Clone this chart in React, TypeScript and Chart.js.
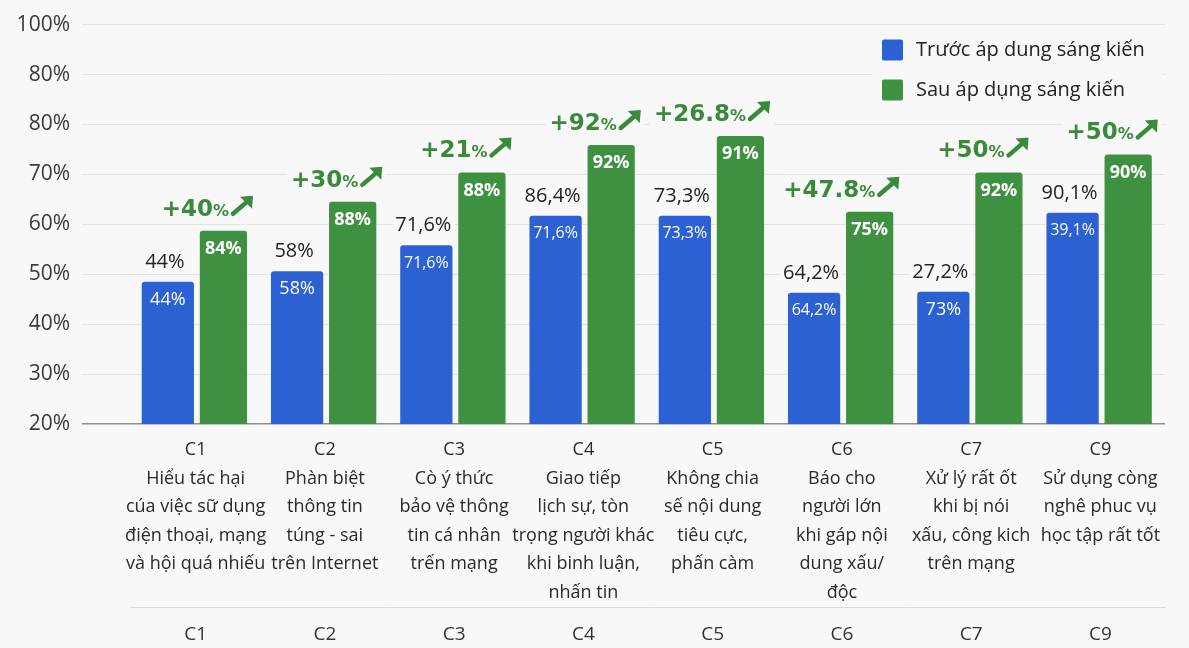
import React, { useEffect, useRef } from "react";
import { Chart, registerables } from "chart.js";

Chart.register(...registerables);

// ---------------- data ----------------
const categoryLabels: string[][] = [
  ["C1", "Hiểu tác hại", "cúa việc sữ dụng", "điện thoại, mạng", "và hội quá nhiếu"],
  ["C2", "Phàn biệt", "thông tin", "túng - sai", "trên Internet"],
  ["C3", "Cò ý thức", "bảo vệ thông", "tin cá nhân", "trến mạng"],
  ["C4", "Giao tiếp", "lịch sự, tòn", "trọng người khác", "khi binh luận,", "nhấn tin"],
  ["C5", "Không chia", "sế nội dung", "tiêu cực,", "phấn càm"],
  ["C6", "Báo cho", "người lớn", "khi gáp nội", "dung xấu/", "độc"],
  ["C7", "Xử lý rất ốt", "khi bị nói", "xấu, công kich", "trên mạng"],
  ["C9", "Sử dụng còng", "nghê phuc vụ", "học tập rất tốt"],
];
const bottomLabels = ["C1", "C2", "C3", "C4", "C5", "C6", "C7", "C9"];
const seriesNames = ["Trước áp dung sáng kiến", "Sau áp dụng sáng kiến"];

const beforeValues = [48.5, 50.6, 55.8, 61.7, 61.7, 46.3, 46.5, 62.3];
const afterValues = [58.7, 64.5, 70.4, 75.9, 77.7, 62.5, 70.4, 74.0];

const beforeTopLabels = ["44%", "58%", "71,6%", "86,4%", "73,3%", "64,2%", "27,2%", "90,1%"];
const beforeInnerLabels = ["44%", "58%", "71,6%", "71,6%", "73,3%", "64,2%", "73%", "39,1%"];
const afterInnerLabels = ["84%", "88%", "88%", "92%", "91%", "75%", "92%", "90%"];
const gainLabels = ["+40", "+30", "+21", "+92", "+26.8", "+47.8", "+50", "+50"];

const yTickLabels = ["20%", "30%", "40%", "50%", "60%", "70%", "80%", "80%", "100%"];

// ---------------- style ----------------
const FONT = '"Open Sans", "Noto Sans", sans-serif';
const WIDE = '"DejaVu Sans", "Open Sans", sans-serif';
const BLUE = "#2c61d3";
const GREEN = "#3f9142";
const GAIN = "#3a8a3c";
const BG = "#f8f8f8";

const annotatePlugin = {
  id: "annotate",
  beforeDraw(chart: any) {
    const { ctx, width, height } = chart;
    ctx.save();
    ctx.fillStyle = BG;
    ctx.fillRect(0, 0, width, height);
    ctx.restore();
  },
  afterDatasetsDraw(chart: any) {
    const ctx: CanvasRenderingContext2D = chart.ctx;
    const m0 = chart.getDatasetMeta(0);
    const m1 = chart.getDatasetMeta(1);
    ctx.save();
    for (let i = 0; i < beforeValues.length; i++) {
      const b = m0.data[i];
      const g = m1.data[i];
      // label above blue bar
      ctx.font = `400 20px ${FONT}`;
      ctx.textAlign = "center";
      ctx.textBaseline = "alphabetic";
      const tw = ctx.measureText(beforeTopLabels[i]).width;
      const tx = b.x - 3;
      const ty = b.y - 14;
      ctx.fillStyle = BG;
      ctx.fillRect(tx - tw / 2 - 3, ty - 17, tw + 6, 21);
      ctx.fillStyle = "#222";
      ctx.fillText(beforeTopLabels[i], tx, ty);

      // inner blue
      const small = beforeInnerLabels[i].includes(",");
      ctx.font = small ? `500 16px ${FONT}` : `500 18px ${FONT}`;
      ctx.fillStyle = "#ffffff";
      ctx.textBaseline = "middle";
      ctx.fillText(beforeInnerLabels[i], b.x, b.y + 18);

      // inner green
      ctx.font = `700 18px ${FONT}`;
      ctx.fillText(afterInnerLabels[i], g.x, g.y + 18);

      // gain label
      const main = gainLabels[i];
      ctx.textAlign = "left";
      ctx.textBaseline = "alphabetic";
      ctx.font = `700 23px ${WIDE}`;
      const wMain = ctx.measureText(main).width;
      ctx.font = `700 16px ${WIDE}`;
      const wPct = ctx.measureText("%").width;
      const arrowW = 21;
      const gap = 3;
      const total = wMain + wPct + gap + arrowW;
      const right = g.x + g.width / 2 + 6;
      const left = right - total;
      const base = g.y - 15;
      ctx.fillStyle = BG;
      ctx.fillRect(left - 4, base - 22, total + 8, 28);
      ctx.fillStyle = GAIN;
      ctx.font = `700 23px ${WIDE}`;
      ctx.fillText(main, left, base);
      ctx.font = `700 16px ${WIDE}`;
      ctx.fillText("%", left + wMain, base);
      // arrow
      const ax0 = left + wMain + wPct + gap;
      const ay0 = base - 2;
      const ax1 = ax0 + arrowW;
      const ay1 = base - 20;
      ctx.strokeStyle = GAIN;
      ctx.lineWidth = 4.5;
      ctx.lineCap = "round";
      ctx.beginPath();
      ctx.moveTo(ax0 + 1, ay0);
      ctx.lineTo(ax1 - 6, ay1 + 6);
      ctx.stroke();
      ctx.beginPath();
      ctx.moveTo(ax1, ay1);
      ctx.lineTo(ax1 - 13, ay1 + 1);
      ctx.lineTo(ax1 - 1, ay1 + 13);
      ctx.closePath();
      ctx.fill();
    }
    ctx.restore();
  },
  afterDraw(chart: any) {
    const ctx: CanvasRenderingContext2D = chart.ctx;
    const area = chart.chartArea;
    const x0 = area.right - 283;
    const y0 = area.top + 7;
    ctx.save();
    ctx.fillStyle = BG;
    ctx.fillRect(x0 - 10, y0 - 4, 290, 82);
    const colors = [BLUE, GREEN];
    for (let k = 0; k < 2; k++) {
      const yy = y0 + 8 + k * 40;
      ctx.fillStyle = colors[k];
      ctx.beginPath();
      (ctx as any).roundRect(x0, yy, 21, 21, 2);
      ctx.fill();
      ctx.fillStyle = "#222";
      ctx.font = `400 20px ${FONT}`;
      ctx.textAlign = "left";
      ctx.textBaseline = "middle";
      ctx.fillText(chart.data.datasets[k].label, x0 + 34, yy + 11);
    }
    ctx.restore();
  },
};

export default function App() {
  const canvasRef = useRef<HTMLCanvasElement | null>(null);

  useEffect(() => {
    document.body.style.margin = "0";
    document.body.style.background = BG;
    const canvas = canvasRef.current;
    if (!canvas) return;
    const chart = new Chart(canvas, {
      type: "bar",
      data: {
        labels: categoryLabels as any,
        datasets: [
          {
            label: seriesNames[0],
            data: beforeValues,
            backgroundColor: BLUE,
            barPercentage: 0.94,
            categoryPercentage: 0.86,
            borderRadius: 3,
            borderSkipped: "bottom",
          },
          {
            label: seriesNames[1],
            data: afterValues,
            backgroundColor: GREEN,
            barPercentage: 0.85,
            categoryPercentage: 0.86,
            borderRadius: 3,
            borderSkipped: "bottom",
          },
        ],
      },
      options: {
        animation: false,
        responsive: true,
        maintainAspectRatio: false,
        layout: { padding: { top: 19, right: 24, bottom: 0, left: 0 } },
        plugins: {
          legend: { display: false },
          tooltip: { enabled: false },
        },
        scales: {
          x: {
            type: "category",
            position: "bottom",
            offset: true,
            grid: { display: false, drawTicks: false },
            border: { display: false },
            ticks: {
              autoSkip: false,
              maxRotation: 0,
              minRotation: 0,
              padding: 12,
              color: "#2a2a2a",
              font: { family: FONT, size: 18, lineHeight: 1.58 },
            },
            afterFit: (s: any) => {
              s.height = 183;
            },
          },
          x2: {
            type: "category",
            position: "bottom",
            labels: bottomLabels,
            offset: true,
            grid: { display: false, drawTicks: false },
            border: { display: true, color: "#d9d9d9", width: 1 },
            ticks: {
              autoSkip: false,
              maxRotation: 0,
              minRotation: 0,
              padding: 16,
              color: "#333",
              font: { family: FONT, size: 19 },
            },
            afterFit: (s: any) => {
              s.height = 41;
            },
          },
          y: {
            min: 20,
            max: 100,
            ticks: {
              stepSize: 10,
              padding: 12,
              color: "#3a3a3a",
              font: { family: FONT, size: 21 },
              callback: (_v: any, index: number) => yTickLabels[index],
            },
            grid: {
              drawTicks: true,
              tickLength: 49,
              color: (c: any) => (c.tick && c.tick.value === 20 ? "#8f8f8f" : "#e4e4e4"),
              tickColor: (c: any) => (c.tick && c.tick.value === 20 ? "#8f8f8f" : "#e4e4e4"),
              lineWidth: (c: any) => (c.tick && c.tick.value === 20 ? 1.5 : 1),
            },
            border: { display: false },
            afterFit: (s: any) => {
              s.width = 131;
            },
          },
        },
      },
      plugins: [annotatePlugin],
    });
    return () => chart.destroy();
  }, []);

  return (
    <div style={{ width: 1189, height: 648, position: "relative", background: BG }}>
      <canvas ref={canvasRef} />
    </div>
  );
}
